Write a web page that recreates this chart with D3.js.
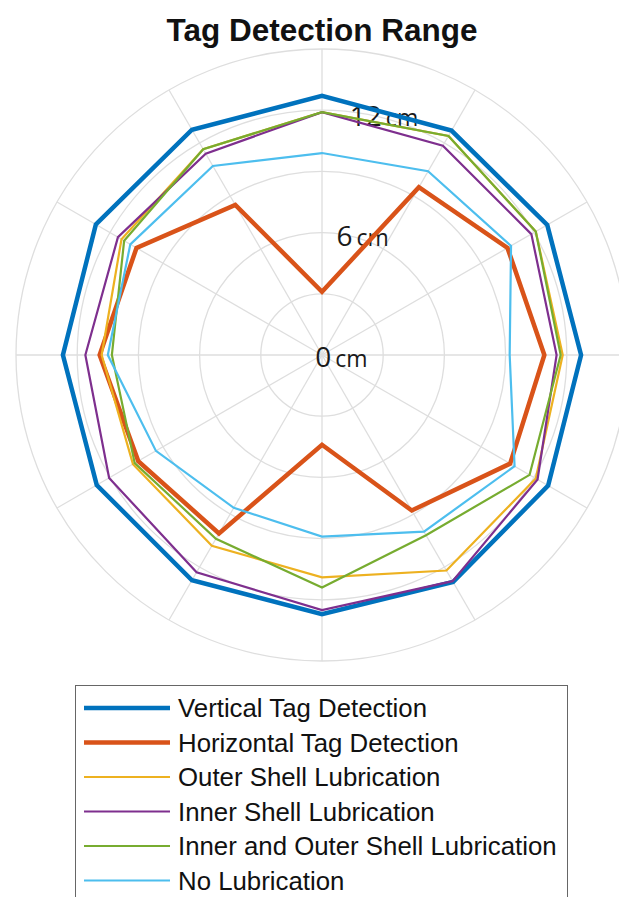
<!DOCTYPE html>
<html>
<head>
<meta charset="utf-8">
<script src="https://cdn.jsdelivr.net/npm/d3@7"></script>
<style>
  body { margin: 0; background: #fff; }
  svg { display: block; }
</style>
</head>
<body>
<div id="chart"></div>
<script>
// angles in degrees, MATLAB style (0 = right, counter-clockwise)
const angles = [0, 30, 60, 90, 120, 150, 180, 210, 240, 270, 300, 330];

const verticalTag = [12.7, 12.75, 12.7, 12.7, 12.75, 12.8, 12.7, 12.75, 12.75, 12.7, 12.85, 12.8];
const horizontalTag = [10.9, 10.5, 9.5, 3.1, 8.5, 10.5, 10.9, 10.4, 10.1, 4.4, 8.8, 10.65];
const outerShell = [11.8, 12.1, 12.4, 11.9, 11.65, 11.35, 10.8, 10.7, 10.8, 10.9, 12.2, 12.1];
const innerShell = [11.5, 11.85, 11.85, 11.9, 11.4, 11.55, 11.6, 12.05, 12.3, 12.5, 12.8, 12.2];
const innerOuterShell = [11.7, 12.1, 12.4, 11.9, 11.65, 11.2, 10.3, 10.6, 10.4, 11.4, 10.2, 11.75];
const noLubrication = [9.2, 10.7, 10.4, 9.9, 10.7, 10.85, 10.5, 9.4, 8.65, 8.9, 10.0, 10.9];

const seriesNames = [
  "Vertical Tag Detection",
  "Horizontal Tag Detection",
  "Outer Shell Lubrication",
  "Inner Shell Lubrication",
  "Inner and Outer Shell Lubrication",
  "No Lubrication",
];
const seriesValues = [verticalTag, horizontalTag, outerShell, innerShell, innerOuterShell, noLubrication];
const seriesColors = ["#0072BD", "#D95319", "#EDB120", "#7E2F8E", "#77AC30", "#4DBEEE"];
const seriesWidths = [4.5, 4.5, 2.2, 2.2, 2.2, 2.2];

const gridRings = [3, 6, 9, 12, 15];
const rTickLabels = [0, 6, 12];

const width = 619, height = 897;
const cx = 322, cy = 355;

const svg = d3.select("#chart").append("svg")
  .attr("width", width)
  .attr("height", height);

const r = d3.scaleLinear().domain([0, 15]).range([0, 306]);
// MATLAB theta -> d3 radial angle (0 at top, clockwise)
const toRad = (deg) => Math.PI / 2 - deg * Math.PI / 180;

// Title
svg.append("text")
  .attr("x", cx)
  .attr("y", 41)
  .attr("text-anchor", "middle")
  .style("font-family", "'Liberation Sans', Arial, sans-serif")
  .style("font-weight", "bold")
  .style("font-size", "31.5px")
  .style("fill", "#111")
  .text("Tag Detection Range");

const plot = svg.append("g").attr("transform", `translate(${cx},${cy})`);

// grid rings
plot.selectAll("circle.ring")
  .data(gridRings)
  .join("circle")
  .attr("class", "ring")
  .attr("r", (d) => r(d))
  .attr("fill", "none")
  .attr("stroke", "#dedede")
  .attr("stroke-width", 1.3);

// spokes
plot.selectAll("line.spoke")
  .data(angles)
  .join("line")
  .attr("class", "spoke")
  .attr("x1", 0)
  .attr("y1", 0)
  .attr("x2", (d) => r(15) * Math.cos(d * Math.PI / 180))
  .attr("y2", (d) => -r(15) * Math.sin(d * Math.PI / 180))
  .attr("stroke", "#dedede")
  .attr("stroke-width", 1.3);

// r tick labels along 80 degrees
const labelAngle = 80 * Math.PI / 180;
const tickLabel = plot.selectAll("text.rtick")
  .data(rTickLabels)
  .join("text")
  .attr("class", "rtick")
  .attr("x", (d) => r(d) * Math.cos(labelAngle) + 19.5)
  .attr("y", (d) => -r(d) * Math.sin(labelAngle) + 12)
  .attr("text-anchor", "middle")
  .style("font-family", "'Open Sans', sans-serif")
  .style("fill", "#1a1a1a");
tickLabel.append("tspan").style("font-size", "28px").text((d) => d);
tickLabel.append("tspan").attr("dx", 4).style("font-size", "23px").text("cm");

// series polygons
const line = d3.lineRadial()
  .angle((d, i) => toRad(angles[i]))
  .radius((d) => r(d))
  .curve(d3.curveLinearClosed);

plot.selectAll("path.series")
  .data(seriesValues)
  .join("path")
  .attr("class", "series")
  .attr("d", (d) => line(d))
  .attr("fill", "none")
  .attr("stroke", (d, i) => seriesColors[i])
  .attr("stroke-width", (d, i) => seriesWidths[i])
  .attr("stroke-linejoin", "miter");

// legend
const legend = svg.append("g").attr("transform", "translate(75,685)");
legend.append("rect")
  .attr("x", 0.5)
  .attr("y", 0.5)
  .attr("width", 492)
  .attr("height", 240)
  .attr("fill", "#fff")
  .attr("stroke", "#666")
  .attr("stroke-width", 1);

const rowY = (i) => 23 + i * 34.5;
const item = legend.selectAll("g.item")
  .data(seriesNames)
  .join("g")
  .attr("class", "item")
  .attr("transform", (d, i) => `translate(0,${rowY(i)})`);
item.append("line")
  .attr("x1", 9)
  .attr("x2", 95)
  .attr("stroke", (d, i) => seriesColors[i])
  .attr("stroke-width", (d, i) => seriesWidths[i]);
item.append("text")
  .attr("x", 103)
  .attr("y", 9)
  .style("font-family", "'Liberation Sans', Arial, sans-serif")
  .style("font-size", "25.8px")
  .style("fill", "#111")
  .text((d) => d);
</script>
</body>
</html>
